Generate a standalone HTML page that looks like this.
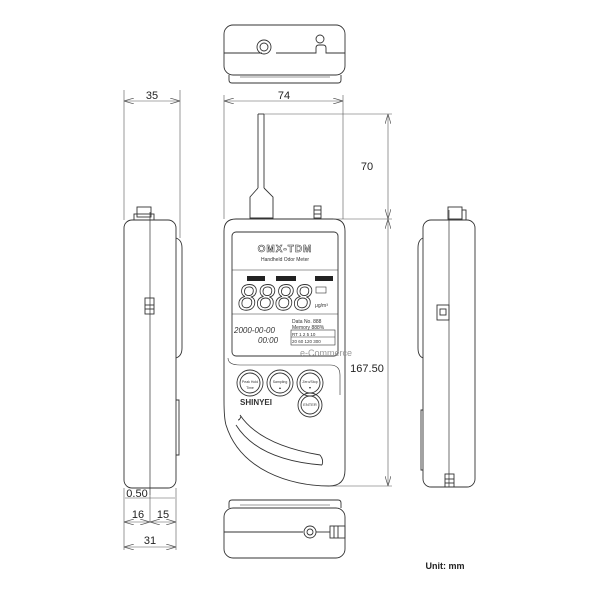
<!DOCTYPE html>
<html><head><meta charset="utf-8"><style>
html,body{margin:0;padding:0;background:#fff;}
svg{display:block;font-family:"Liberation Sans",sans-serif;}
</style></head><body>
<svg width="600" height="600" viewBox="0 0 600 600" xmlns="http://www.w3.org/2000/svg">
<defs>
<marker id="a" markerWidth="10" markerHeight="6" refX="10" refY="3" orient="auto-start-reverse" markerUnits="userSpaceOnUse"><path d="M0,0 L10,3 L0,6" fill="none" stroke="#555" stroke-width="0.7"/></marker>
</defs>
<g fill="none" stroke="#333" stroke-width="0.9">
<!-- top view -->
<rect x="224" y="25" width="121" height="50" rx="9"/>
<path d="M229,75 v5 q0,3 3,3 h106 q3,0 3,-3 v-5"/>
<path d="M224,53 h38 M276,53 h40 v-5 q0,-3 3,-3 h4 q3,0 3,3 v5 h19"/>
<circle cx="264" cy="47" r="7"/><circle cx="264" cy="47" r="4"/>
<circle cx="320" cy="39" r="4"/>
<line x1="240" y1="77" x2="330" y2="77" stroke-width="0.6"/>
<!-- left side view -->
<rect x="124" y="220" width="52" height="268" rx="8"/>
<line x1="150" y1="212" x2="150" y2="495" stroke-width="0.7"/>
<rect x="137" y="207" width="14" height="10"/><rect x="134" y="214" width="20" height="6"/>
<rect x="145" y="298" width="9" height="16"/><line x1="145" y1="305" x2="154" y2="305"/><line x1="145" y1="309" x2="154" y2="309"/>
<path d="M176,238 q6,2 6,10 v100 q0,8 -6,10"/>
<path d="M176,400 h3 v55 h-3"/>
<!-- right side view -->
<rect x="423" y="220" width="52" height="267" rx="8"/>
<line x1="449" y1="210" x2="449" y2="487" stroke-width="0.7"/>
<rect x="448" y="207" width="14" height="12"/><rect x="462" y="210" width="4" height="10"/>
<rect x="437" y="305" width="12" height="15"/><rect x="440" y="309" width="6" height="6"/>
<path d="M423,238 q-5,2 -5,10 v100 q0,8 5,10"/>
<path d="M423,410 h-2 v60 h2"/>
<rect x="445" y="474" width="9" height="13"/><line x1="445" y1="479" x2="454" y2="479"/><line x1="445" y1="483" x2="454" y2="483"/>
<!-- bottom view -->
<rect x="224" y="508" width="121" height="50" rx="9"/>
<path d="M229,508 v-5 q0,-3 3,-3 h106 q3,0 3,3 v5"/>
<line x1="240" y1="505" x2="330" y2="505" stroke-width="0.6"/>
<line x1="224" y1="532" x2="303" y2="532"/><line x1="316" y1="532" x2="330" y2="532"/>
<circle cx="310" cy="532" r="6"/><circle cx="310" cy="532" r="3"/>
<rect x="330" y="526" width="15" height="12"/><line x1="334" y1="526" x2="334" y2="538"/><line x1="338" y1="526" x2="338" y2="538"/>
<!-- front view -->
<line x1="258" y1="114" x2="258" y2="188"/><line x1="264" y1="114" x2="264" y2="188"/><line x1="258" y1="114" x2="264" y2="114"/>
<path d="M258,188 L250,197 V218 H273 V197 L264,188"/>
<rect x="314" y="206" width="7" height="12"/><line x1="314" y1="210" x2="321" y2="210"/><line x1="314" y1="214" x2="321" y2="214"/>
<path d="M236,219 H333 Q345,219 345,231 V470 Q345,486 329,486 C290,486 240,470 226,425 Q224,418 224,400 V231 Q224,219 236,219 Z"/>
<rect x="232" y="232" width="106" height="124" rx="4"/>
<line x1="232" y1="270" x2="338" y2="270" stroke-width="0.6"/>
<line x1="232" y1="314" x2="338" y2="314" stroke-width="0.6"/>
<path d="M228,358 Q228,365 240,365 H330 Q340,365 340,375 V395" stroke-width="0.6"/>
<circle cx="250" cy="383" r="13"/><circle cx="250" cy="383" r="10"/>
<circle cx="280" cy="383" r="13"/><circle cx="280" cy="383" r="10"/>
<circle cx="310" cy="383" r="13"/><circle cx="310" cy="383" r="10"/>
<circle cx="310" cy="405" r="12"/><circle cx="310" cy="405" r="9"/>
<path d="M240,415 Q260,445 320,455"/><path d="M236,425 Q258,460 322,465"/>
<path d="M238,420 Q240,420 241,416"/><path d="M320,455 Q324,460 322,465"/>
<rect x="291" y="330" width="44" height="15" stroke-width="0.6"/>
<line x1="291" y1="337" x2="335" y2="337" stroke-width="0.6"/>
</g>
<text x="238" y="310" font-size="36" font-style="italic" fill="none" stroke="#333" stroke-width="0.9" textLength="74" lengthAdjust="spacingAndGlyphs">8888</text>
<g fill="#222" font-size="4">
<rect x="247" y="276" width="18" height="5"/><rect x="276" y="276" width="20" height="5"/><rect x="315" y="276" width="18" height="5"/>
<rect x="316" y="287" width="10" height="6" fill="none" stroke="#333" stroke-width="0.6"/>
</g>
<g fill="#333">
<text x="285" y="252" font-size="10" text-anchor="middle" font-weight="bold" letter-spacing="1" fill="none" stroke="#333" stroke-width="0.5">OMX-TDM</text>
<text x="285" y="261" font-size="5" text-anchor="middle">Handheld Odor Meter</text>
<text x="315" y="307" font-size="5">μg/m³</text>
<text x="292" y="323" font-size="5">Data No. 888</text>
<text x="292" y="329" font-size="5">Memory 888%</text>
<text x="292" y="336" font-size="4.5">RT 1 2 5 10</text>
<text x="292" y="343" font-size="4.5">20 60 120 300</text>
<text x="234" y="333" font-size="8" font-style="italic">2000-00-00</text>
<text x="258" y="343" font-size="8" font-style="italic">00:00</text>
<text x="250" y="383" font-size="3.5" text-anchor="middle">Peak Hold</text>
<text x="250" y="389" font-size="3.5" text-anchor="middle">Time</text>
<text x="280" y="383" font-size="3.5" text-anchor="middle">Sampling</text>
<text x="280" y="389" font-size="3.5" text-anchor="middle">▲</text>
<text x="310" y="383" font-size="3.5" text-anchor="middle">Zero/Stop</text>
<text x="310" y="389" font-size="3.5" text-anchor="middle">▼</text>
<text x="310" y="406" font-size="4" text-anchor="middle">ENTER</text>
<text x="256" y="405" font-size="8" font-weight="bold" text-anchor="middle">SHINYEI</text>
<text x="300" y="356" font-size="9" fill="#999">e-Commerce</text>
</g>
<!-- dimensions -->
<g stroke="#555" stroke-width="0.6" fill="none">
<line x1="124" y1="90" x2="124" y2="220"/><line x1="180" y1="90" x2="180" y2="238"/>
<line x1="124" y1="101" x2="180" y2="101" marker-start="url(#a)" marker-end="url(#a)"/>
<line x1="224" y1="95" x2="224" y2="219"/><line x1="343" y1="95" x2="343" y2="219"/>
<line x1="224" y1="101" x2="343" y2="101" marker-start="url(#a)" marker-end="url(#a)"/>
<line x1="264" y1="114" x2="392" y2="114"/><line x1="333" y1="219" x2="392" y2="219"/><line x1="329" y1="486" x2="392" y2="486"/>
<line x1="388" y1="114" x2="388" y2="219" marker-start="url(#a)" marker-end="url(#a)"/>
<line x1="388" y1="219" x2="388" y2="486" marker-start="url(#a)" marker-end="url(#a)"/>
<line x1="124" y1="488" x2="124" y2="550"/><line x1="176" y1="488" x2="176" y2="550"/><line x1="150" y1="495" x2="150" y2="522"/>
<line x1="125" y1="498" x2="175" y2="498"/>
<line x1="124" y1="522" x2="150" y2="522" marker-start="url(#a)" marker-end="url(#a)"/>
<line x1="150" y1="522" x2="176" y2="522" marker-start="url(#a)" marker-end="url(#a)"/>
<line x1="124" y1="547" x2="176" y2="547" marker-start="url(#a)" marker-end="url(#a)"/>
</g>
<g fill="#222" font-size="11">
<text x="152" y="99" text-anchor="middle">35</text>
<text x="284" y="99" text-anchor="middle">74</text>
<text x="367" y="170" text-anchor="middle">70</text>
<text x="367" y="372" text-anchor="middle">167.50</text>
<text x="137" y="497" text-anchor="middle">0.50</text>
<text x="138" y="518" text-anchor="middle">16</text>
<text x="163" y="518" text-anchor="middle">15</text>
<text x="150" y="544" text-anchor="middle">31</text>
<text x="445" y="569" font-size="9" font-weight="bold" text-anchor="middle">Unit: mm</text>
</g>
</svg>
</body></html>
